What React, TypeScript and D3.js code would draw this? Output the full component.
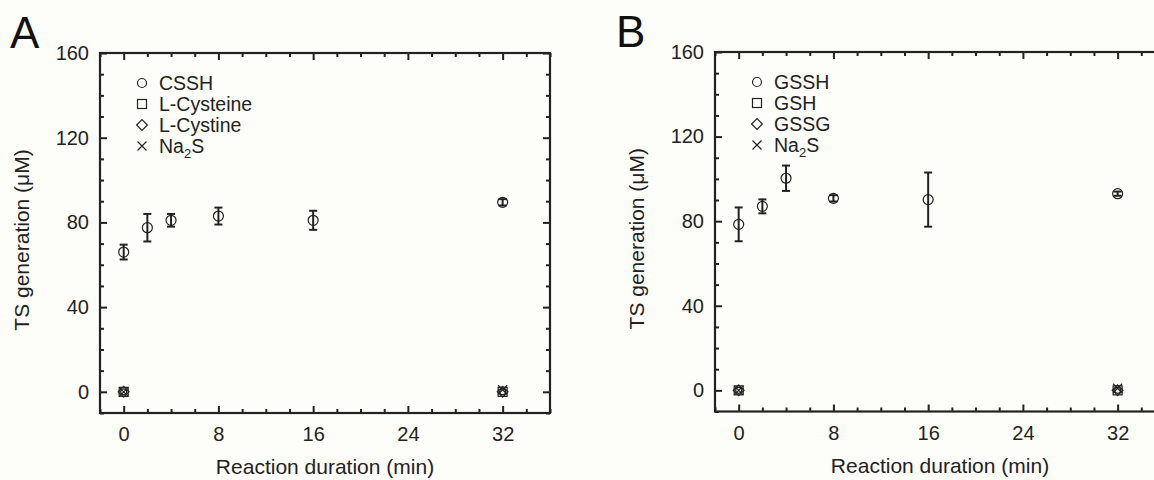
import React, { useEffect, useRef } from 'react';
import * as d3 from 'd3';

// time points (min)
const times = [0, 2, 4, 8, 16, 32];
const endTimes = [0, 32];

// panel A
const csshMean = [66, 77.5, 81, 83, 81, 89.5];
const csshErr = [3.5, 6.5, 3, 4, 4.5, 1.5];
const cysteineMean = [0, 0];
const cystineMean = [0, 0];
const na2sMeanA = [0, 1];

// panel B
const gsshMean = [78.5, 87, 100.3, 90.8, 90.2, 93];
const gsshErr = [8, 3.3, 6, 1.5, 12.8, 1];
const gshMean = [0, 0];
const gssgMean = [0, 0];
const na2sMeanB = [0, 1];

const xTicks = [0, 8, 16, 24, 32];
const xMinor = d3.range(-2, 37, 2);
const yTicks = [0, 40, 80, 120, 160];
const yMinor = d3.range(-10, 161, 10);

const legendA = ['CSSH', 'L-Cysteine', 'L-Cystine', 'Na2S'];
const legendB = ['GSSH', 'GSH', 'GSSG', 'Na2S'];

const INK = '#222';
const FONT = 'Liberation Sans, Arial, sans-serif';

type Panel = {
  letter: string;
  letterX: number;
  left: number;
  top: number;
  bottom: number;
  mean: number[];
  err: number[];
  squares: number[];
  diamonds: number[];
  crosses: number[];
  legend: string[];
};

const panels: Panel[] = [
  {
    letter: 'A',
    letterX: 10,
    left: 100,
    top: 53,
    bottom: 413,
    mean: csshMean,
    err: csshErr,
    squares: cysteineMean,
    diamonds: cystineMean,
    crosses: na2sMeanA,
    legend: legendA,
  },
  {
    letter: 'B',
    letterX: 616,
    left: 715,
    top: 52,
    bottom: 411.5,
    mean: gsshMean,
    err: gsshErr,
    squares: gshMean,
    diamonds: gssgMean,
    crosses: na2sMeanB,
    legend: legendB,
  },
];

const drawSymbol = (g: any, kind: number, cx: number, cy: number, s: number) => {
  if (kind === 0) {
    g.append('circle').attr('cx', cx).attr('cy', cy).attr('r', s)
      .attr('fill', 'none').attr('stroke', INK).attr('stroke-width', 1.2);
  } else if (kind === 1) {
    g.append('rect').attr('x', cx - s).attr('y', cy - s).attr('width', 2 * s).attr('height', 2 * s)
      .attr('fill', 'none').attr('stroke', INK).attr('stroke-width', 1.2);
  } else if (kind === 2) {
    g.append('path')
      .attr('d', `M${cx},${cy - s * 1.2}L${cx + s * 1.2},${cy}L${cx},${cy + s * 1.2}L${cx - s * 1.2},${cy}Z`)
      .attr('fill', 'none').attr('stroke', INK).attr('stroke-width', 1.2);
  } else {
    g.append('path')
      .attr('d', `M${cx - s},${cy - s}L${cx + s},${cy + s}M${cx + s},${cy - s}L${cx - s},${cy + s}`)
      .attr('fill', 'none').attr('stroke', INK).attr('stroke-width', 1.2);
  }
};

const App = () => {
  const ref = useRef<SVGSVGElement>(null);

  useEffect(() => {
    document.body.style.margin = '0';
    const svg = d3.select(ref.current);
    svg.selectAll('*').remove();

    panels.forEach((p) => {
      const right = p.left + 450;
      const x = d3.scaleLinear().domain([-2, 36]).range([p.left, right]);
      const y = d3.scaleLinear().domain([-10, 160]).range([p.bottom, p.top]);
      const g = svg.append('g');

      // ticks on all four sides, pointing in
      const sides = [
        { ax: d3.axisBottom(x), t: `translate(0,${p.bottom})`, vals: xTicks, minor: xMinor, label: true, pad: 14 },
        { ax: d3.axisTop(x), t: `translate(0,${p.top})`, vals: xTicks, minor: xMinor, label: false, pad: 10 },
        { ax: d3.axisLeft(y), t: `translate(${p.left},0)`, vals: yTicks, minor: yMinor, label: true, pad: 11 },
        { ax: d3.axisRight(y), t: `translate(${right},0)`, vals: yTicks, minor: yMinor, label: false, pad: 10 },
      ];
      sides.forEach((s) => {
        const minorAxis = g.append('g').attr('transform', s.t)
          .call(s.ax.tickValues(s.minor.filter((v) => !s.vals.includes(v))).tickSizeInner(-4).tickSizeOuter(0).tickFormat(() => '') as any);
        minorAxis.select('.domain').remove();
        minorAxis.selectAll('line').attr('stroke', INK).attr('stroke-width', 2);

        const majorAxis = g.append('g').attr('transform', s.t)
          .call(s.ax.tickValues(s.vals).tickSizeInner(-7).tickSizeOuter(0).tickPadding(s.pad)
            .tickFormat((d: any) => (s.label ? String(d) : '')) as any);
        majorAxis.select('.domain').remove();
        majorAxis.selectAll('line').attr('stroke', INK).attr('stroke-width', 2);
        majorAxis.selectAll('text').attr('fill', INK).style('font-family', FONT).style('font-size', '20px');
      });

      g.append('rect')
        .attr('x', p.left).attr('y', p.top)
        .attr('width', right - p.left).attr('height', p.bottom - p.top)
        .attr('fill', 'none').attr('stroke', INK).attr('stroke-width', 2.2);

      // error bars + circles
      times.forEach((t, i) => {
        const cx = x(t);
        const y1 = y(p.mean[i] + p.err[i]);
        const y2 = y(p.mean[i] - p.err[i]);
        g.append('line').attr('x1', cx).attr('x2', cx).attr('y1', y1).attr('y2', y2)
          .attr('stroke', INK).attr('stroke-width', 2);
        [y1, y2].forEach((yy) => {
          g.append('line').attr('x1', cx - 4).attr('x2', cx + 4).attr('y1', yy).attr('y2', yy)
            .attr('stroke', INK).attr('stroke-width', 2);
        });
        drawSymbol(g, 0, cx, y(p.mean[i]), 5);
      });

      // controls near zero
      endTimes.forEach((t, i) => {
        const cx = x(t);
        drawSymbol(g, 1, cx, y(p.squares[i]), 4.5);
        drawSymbol(g, 2, cx, y(p.diamonds[i]), 4.5);
        drawSymbol(g, 3, cx, y(p.crosses[i]), 4.5);
        drawSymbol(g, 0, cx, y(p.squares[i]), 3);
      });

      // legend
      p.legend.forEach((name, i) => {
        const ly = p.top + 30 + i * 21;
        const lx = p.left + 42;
        drawSymbol(g, i, lx, ly, 4.5);
        const txt = g.append('text').attr('x', lx + 17).attr('y', ly + 7)
          .attr('fill', INK).style('font-family', FONT).style('font-size', '19.5px');
        if (name === 'Na2S') {
          txt.append('tspan').text('Na');
          txt.append('tspan').attr('dy', 5).style('font-size', '13px').text('2');
          txt.append('tspan').attr('dy', -5).text('S');
        } else {
          txt.text(name);
        }
      });

      // axis titles
      g.append('text').attr('x', (p.left + right) / 2).attr('y', p.bottom + 61)
        .attr('text-anchor', 'middle').attr('fill', INK)
        .style('font-family', FONT).style('font-size', '21px')
        .text('Reaction duration (min)');
      g.append('text')
        .attr('transform', `translate(${p.left - 71},${(p.top + p.bottom) / 2 + 7}) rotate(-90)`)
        .attr('text-anchor', 'middle').attr('fill', INK)
        .style('font-family', FONT).style('font-size', '21px')
        .text('TS generation (μM)');

      g.append('text').attr('x', p.letterX).attr('y', p.top - 5)
        .attr('fill', '#111').style('font-family', FONT).style('font-size', '44px')
        .text(p.letter);
    });
  }, []);

  return (
    <svg ref={ref} width={1154} height={480} style={{ display: 'block', background: '#fdfdfa' }} />
  );
};

export default App;
